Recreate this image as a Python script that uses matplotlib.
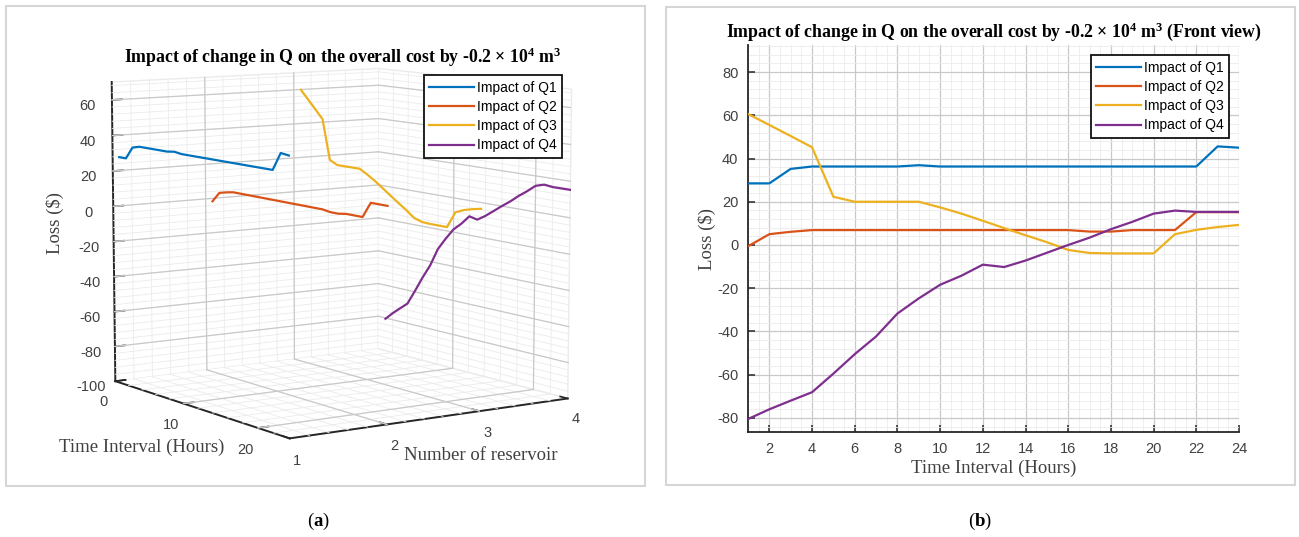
import numpy as np
import matplotlib
matplotlib.use('Agg')
import matplotlib.pyplot as plt
from matplotlib.patches import Rectangle
from mpl_toolkits.mplot3d import Axes3D  # noqa

plt.rcParams['mathtext.fontset'] = 'custom'
plt.rcParams['mathtext.rm'] = 'Liberation Serif:bold'
plt.rcParams['mathtext.bf'] = 'Liberation Serif:bold'
plt.rcParams['mathtext.it'] = 'Liberation Serif:italic'
plt.rcParams['axes.unicode_minus'] = False

# ---------------- data ----------------
hours = list(range(1, 25))
reservoirs = [1, 2, 3, 4]
series_names = ['Impact of Q1', 'Impact of Q2', 'Impact of Q3', 'Impact of Q4']
q1 = [28.5, 28.5, 35.2, 36.3, 36.3, 36.3, 36.3, 36.3, 36.9, 36.3, 36.3, 36.3,
      36.3, 36.3, 36.3, 36.3, 36.3, 36.3, 36.3, 36.3, 36.3, 36.3, 45.6, 45.0]
q2 = [-0.6, 5.0, 6.1, 6.9, 6.9, 6.9, 6.9, 6.9, 6.9, 6.9, 6.9, 6.9,
      6.9, 6.9, 6.9, 6.9, 6.2, 6.2, 6.9, 6.9, 6.9, 15.2, 15.2, 15.2]
q3 = [60.6, 55.5, 50.4, 45.2, 22.3, 20.0, 20.0, 20.0, 20.0, 17.4, 14.5, 11.2,
      7.8, 4.5, 1.3, -2.3, -3.7, -3.9, -3.9, -3.9, 5.0, 7.0, 8.3, 9.3]
q4 = [-80.5, -76.0, -72.0, -68.1, -59.5, -50.5, -42.3, -31.7, -24.7, -18.4, -14.2, -9.1,
      -10.2, -7.2, -3.6, 0.0, 3.4, 7.3, 10.7, 14.5, 15.9, 15.3, 15.3, 15.3]
series = [q1, q2, q3, q4]
colors = ['#0072BD', '#D95319', '#EDB120', '#7E2F8E']

title_a = 'Impact of change in Q on the overall cost by -0.2 × 10$^{4}$ m$^{3}$'
title_b = 'Impact of change in Q on the overall cost by -0.2 × 10$^{4}$ m$^{3}$ (Front view)'
xlabel_txt = 'Time Interval (Hours)'
ylabel_txt = 'Loss (\\$)'
reslabel_txt = 'Number of reservoir'

# 3D axis setup
t_lim = (0, 24)
r_lim = (1, 4)
z_lim = (-100, 70)
t_major = [0, 10, 20]
r_major = [1, 2, 3, 4]
z_major = [-100, -80, -60, -40, -20, 0, 20, 40, 60]

# 2D axis setup
x2_lim = (1, 24)
y2_lim = (-86.5, 92.5)
x2_major = list(range(2, 25, 2))
y2_major = [-80, -60, -40, -20, 0, 20, 40, 60, 80]

W, H = 1299, 537
fig = plt.figure(figsize=(W / 100, H / 100), dpi=100)

TICK_FS = 10.5
LEG_FS = 10.0
LAB_FS = 13.5
TIT_FS = 12.8
TXT = '#262626'
LBL = '#404040'
MAJ = '#c9c9c9'
MIN = '#ebebeb'
SANS = ['Liberation Sans', 'DejaVu Sans']
SERIF = ['Liberation Serif', 'DejaVu Serif']


def px(x, y):
    return x / W, 1 - y / H


# panel borders
for (x0, y0, x1, y1) in [(6, 6, 645, 486), (666, 7, 1295, 485)]:
    fig.patches.append(Rectangle(px(x0, y1), (x1 - x0) / W, (y1 - y0) / H,
                                 transform=fig.transFigure, fill=False,
                                 edgecolor='#d6d6d6', linewidth=1.5))

fig.text(*px(318, 521), '($\\mathbf{a}$)', ha='center', va='center',
         fontsize=13.5, family=SERIF)
fig.text(*px(980, 521), '($\\mathbf{b}$)', ha='center', va='center',
         fontsize=13.5, family=SERIF)

leg_kw = dict(prop={'family': SANS, 'size': LEG_FS}, frameon=True, fancybox=False,
              edgecolor='#111111', framealpha=1, handlelength=3.2,
              handletextpad=0.2, labelspacing=0.38, borderpad=0.4,
              borderaxespad=0)

# ---------------- 2D panel (b) ----------------
ax = fig.add_axes([748 / W, 1 - 432 / H, (1239 - 748) / W, (432 - 45) / H])
for s, c, n in zip(series, colors, series_names):
    ax.plot(hours, s, color=c, lw=1.6, label=n, zorder=3)
ax.set_xlim(*x2_lim)
ax.set_ylim(*y2_lim)
ax.set_xticks(x2_major)
ax.set_yticks(y2_major)
ax.set_xticks(np.arange(1, 24.01, 0.5), minor=True)
ax.set_yticks(np.arange(-84, 92.5, 4), minor=True)
ax.grid(True, which='major', color=MAJ, lw=0.9, zorder=0)
ax.grid(True, which='minor', color=MIN, lw=0.6, zorder=0)
ax.set_axisbelow(True)
for sp in ['top', 'right']:
    ax.spines[sp].set_visible(False)
for sp in ['left', 'bottom']:
    ax.spines[sp].set_color(TXT)
    ax.spines[sp].set_linewidth(1.3)
ax.tick_params(which='major', direction='in', length=5, width=1.1, colors=TXT,
               labelsize=TICK_FS, labelcolor=LBL, pad=7)
ax.tick_params(which='minor', length=0)
for lab in ax.get_xticklabels() + ax.get_yticklabels():
    lab.set_family(SANS)
ax.set_xlabel(xlabel_txt, fontsize=LAB_FS, family=SERIF, color=LBL, labelpad=3)
ax.set_ylabel(ylabel_txt, fontsize=LAB_FS, family=SERIF, color=LBL, labelpad=1)
ax.set_title(title_b, fontsize=TIT_FS, family=SERIF, fontweight='bold', pad=6)
leg = ax.legend(loc='upper right', bbox_to_anchor=(1 - 10 / 491, 1 - 10 / 387), **leg_kw)
leg.get_frame().set_linewidth(1.3)

# ---------------- 3D panel (a) ----------------
ax3 = fig.add_axes([0.0700, 0.0961, 0.37, 0.894], projection='3d')
ax3.set_proj_type('persp', focal_length=1.0)
ax3.view_init(elev=8, azim=-34)
ax3.set_box_aspect((1, 1, 0.935), zoom=1.126)
ax3.computed_zorder = False
ax3.set_xlim(*t_lim)
ax3.set_ylim(*r_lim)
ax3.set_zlim(*z_lim)
ax3.set_xticks(t_major)
ax3.set_yticks(r_major)
ax3.set_zticks(z_major)
ax3.grid(False)
for axis in (ax3.xaxis, ax3.yaxis, ax3.zaxis):
    axis.set_pane_color((1, 1, 1, 1))
    axis.pane.set_edgecolor(MIN)
    axis.line.set_color(TXT)
    axis.line.set_linewidth(1.4)
    try:
        axis._axinfo['tick']['inward_factor'] = 0.0
        axis._axinfo['tick']['outward_factor'] = 0.45
        axis._axinfo['tick']['linewidth'] = {True: 1.2, False: 0.5}
    except Exception:
        pass
ax3.tick_params(labelsize=TICK_FS, colors=TXT, labelcolor=LBL)
ax3.xaxis.set_tick_params(pad=-0.5)
ax3.yaxis.set_tick_params(pad=-1)
ax3.zaxis.set_tick_params(pad=2)
for lab in ax3.get_xticklabels() + ax3.get_yticklabels() + ax3.get_zticklabels():
    lab.set_family(SANS)

# pane grid lines (major + minor)
t0, t1 = t_lim
r0, r1 = r_lim
z0, z1 = z_lim


def inner(vals, lo, hi):
    return [v for v in vals if lo < v < hi]


t_minor = inner(np.arange(0, 24.01, 2), t0, t1)
r_minor = inner(np.round(np.arange(1, 4.001, 0.2), 3), r0, r1)
z_minor = inner(np.arange(-100, 70.01, 4), z0, z1)
for vals, col, lw in [((t_minor, r_minor, z_minor), MIN, 0.6),
                      ((inner(t_major, t0, t1), inner(r_major, r0, r1),
                        inner(z_major, z0, z1)), MAJ, 0.9)]:
    tv, rv, zv = vals
    for t in tv:
        ax3.plot([t, t], [r1, r1], [z0, z1], color=col, lw=lw, zorder=1)  # back pane res=4
        ax3.plot([t, t], [r0, r1], [z0, z0], color=col, lw=lw, zorder=1)  # floor
    for r in rv:
        ax3.plot([t0, t0], [r, r], [z0, z1], color=col, lw=lw, zorder=1)  # back pane time=0
        ax3.plot([t0, t1], [r, r], [z0, z0], color=col, lw=lw, zorder=1)  # floor
    for z in zv:
        ax3.plot([t0, t0], [r0, r1], [z, z], color=col, lw=lw, zorder=1)
        ax3.plot([t0, t1], [r1, r1], [z, z], color=col, lw=lw, zorder=1)

for s, c, n, rv in zip(series, colors, series_names, reservoirs):
    ax3.plot(hours, [rv] * len(hours), s, color=c, lw=1.6, label=n, zorder=5)

ax3.set_xlabel('')
ax3.set_ylabel('')
ax3.set_zlabel('')

# put the z axis on the left-most vertical edge
best = None
for pos in ['lower', 'upper', 'default']:
    try:
        ax3.zaxis.set_ticks_position(pos)
    except Exception:
        continue
    fig.canvas.draw()
    xs = [l.get_window_extent().x0 for l in ax3.zaxis.get_ticklabels() if l.get_text()]
    if xs:
        m = min(xs)
        if best is None or m < best[1]:
            best = (pos, m)
if best is not None:
    ax3.zaxis.set_ticks_position(best[0])

fig.text(*px(343, 57), title_a, ha='center', va='center', fontsize=TIT_FS,
         family=SERIF, fontweight='bold')
fig.text(*px(142, 447), xlabel_txt, ha='center', va='center', fontsize=LAB_FS,
         family=SERIF, color=LBL)
fig.text(*px(481, 455), reslabel_txt, ha='center', va='center', fontsize=LAB_FS,
         family=SERIF, color=LBL)
fig.text(*px(55, 223), ylabel_txt, ha='center', va='center', fontsize=LAB_FS,
         family=SERIF, color=LBL, rotation=90)
leg3 = fig.legend(*ax3.get_legend_handles_labels(), loc='upper right',
                  bbox_to_anchor=px(562, 75), bbox_transform=fig.transFigure, **leg_kw)
leg3.get_frame().set_linewidth(1.3)

fig.savefig('out.png', dpi=100)
